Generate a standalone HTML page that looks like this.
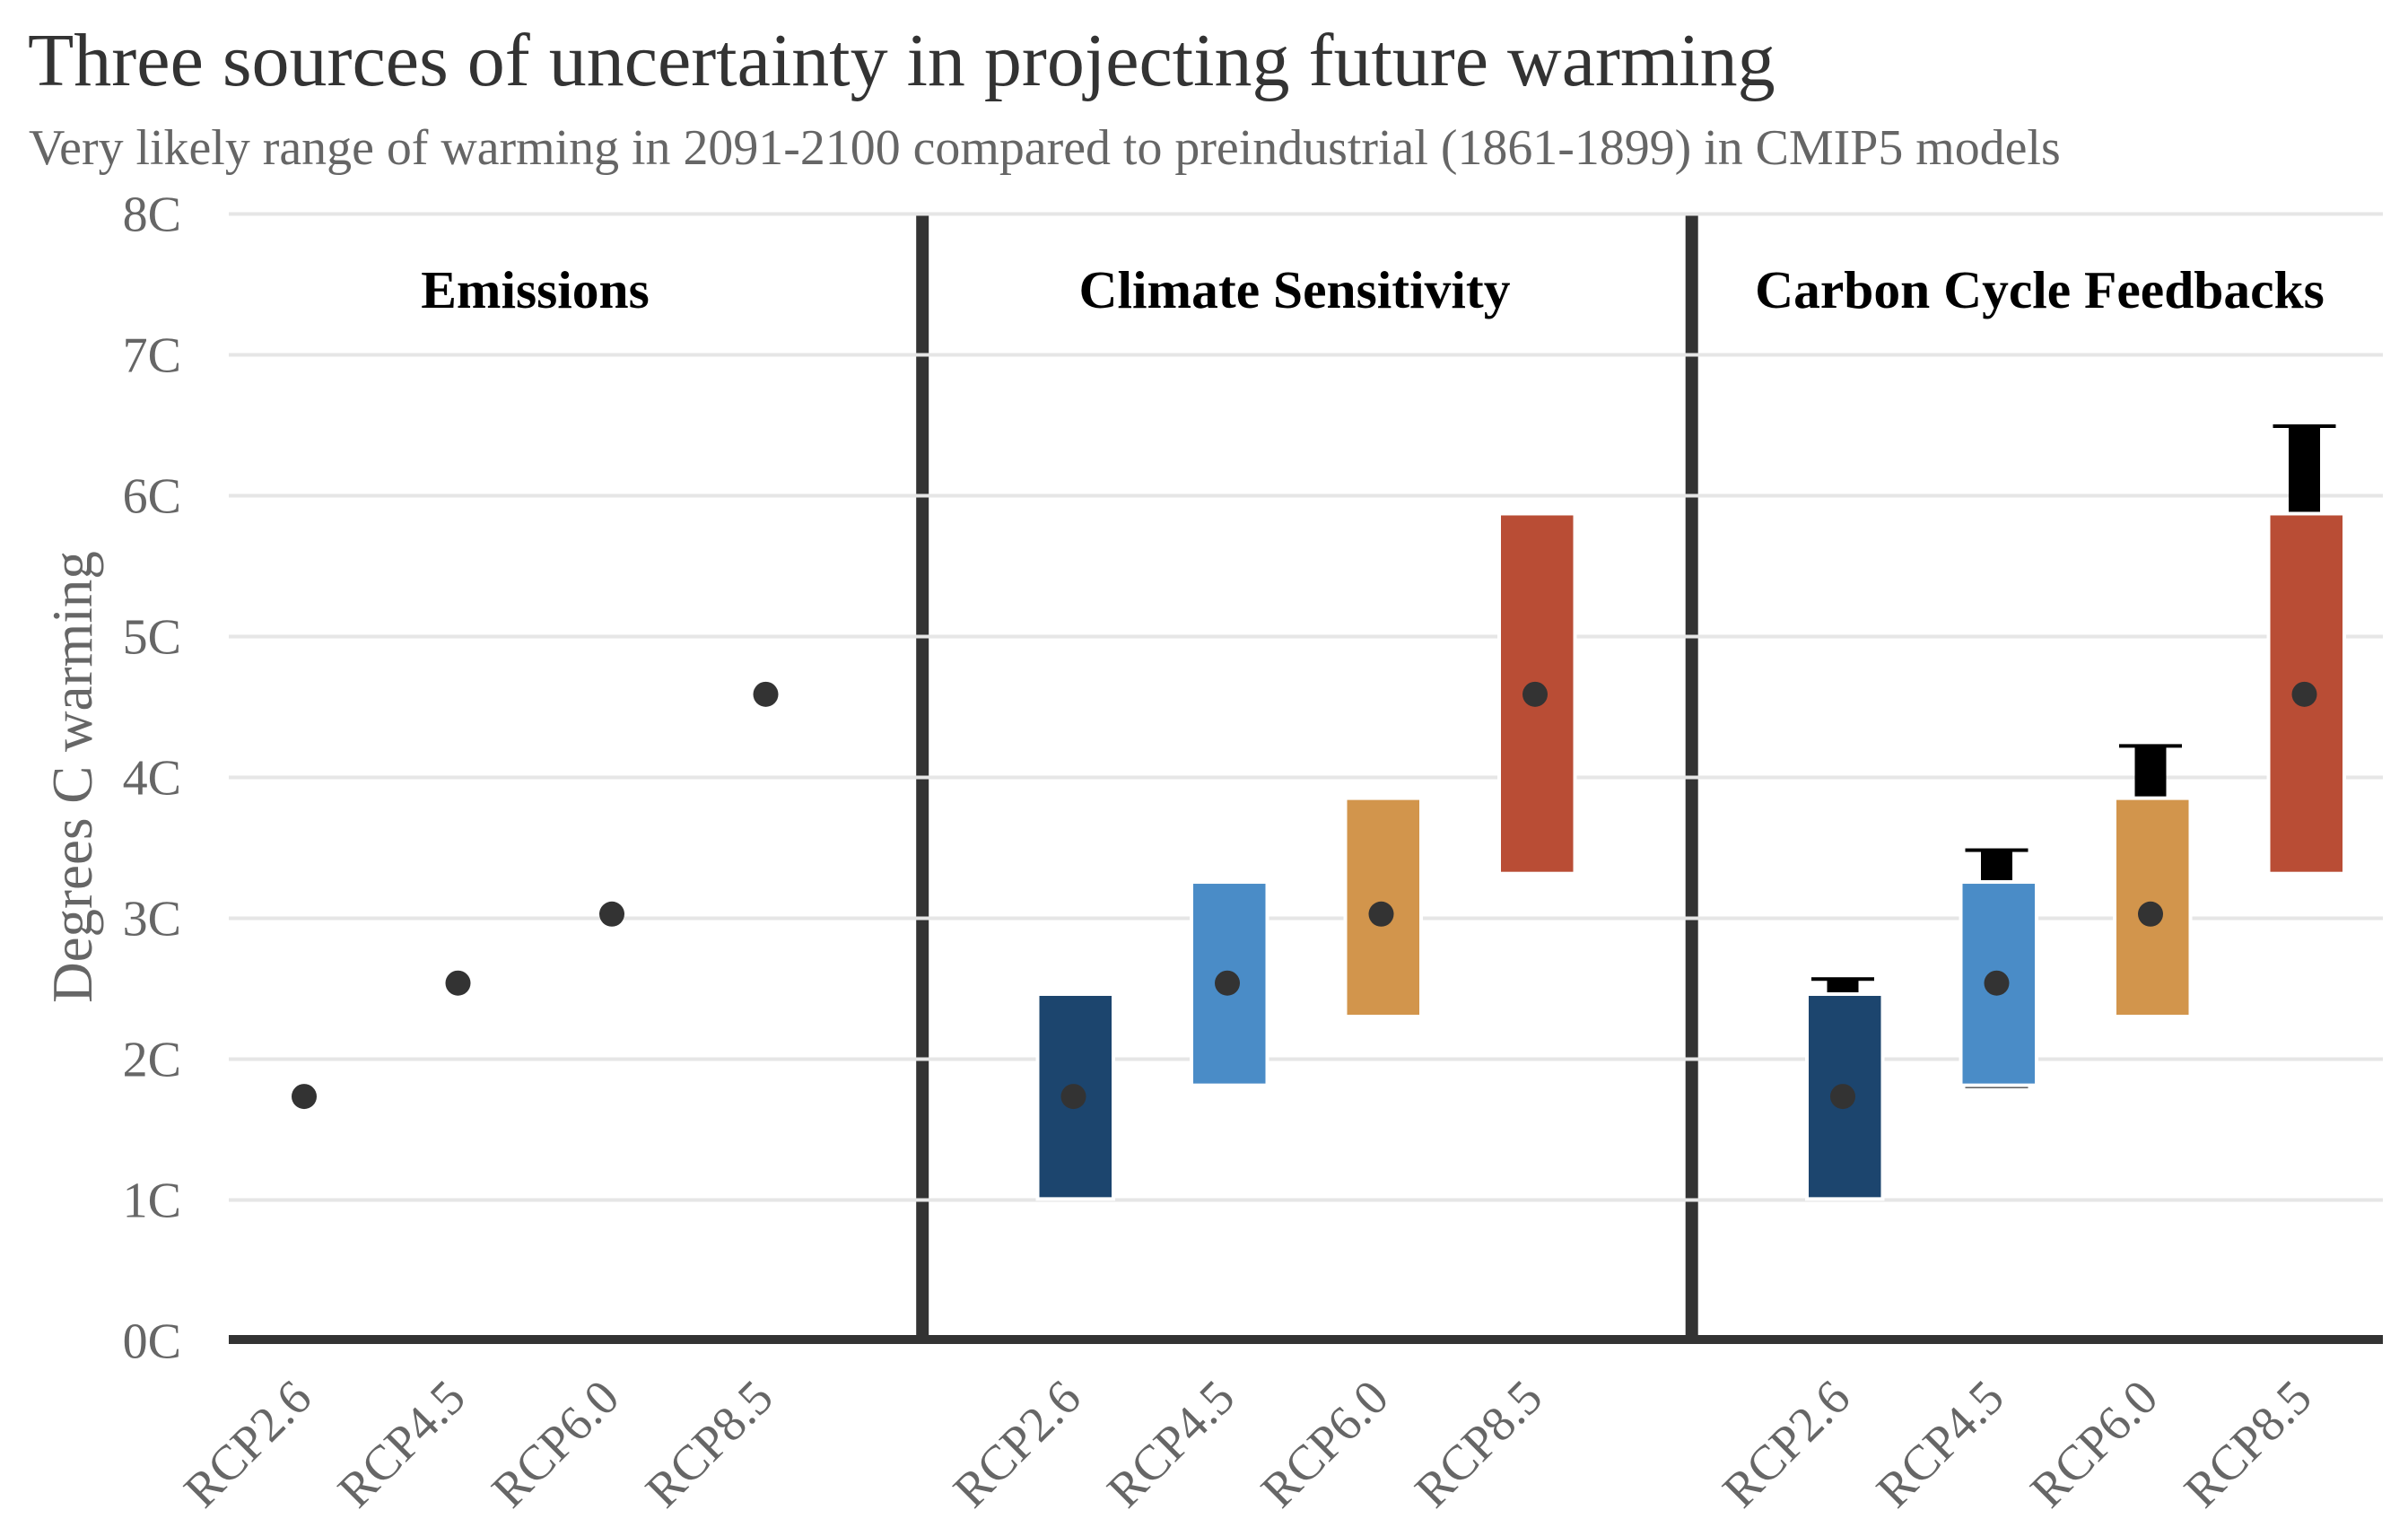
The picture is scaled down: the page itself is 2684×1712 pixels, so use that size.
<!DOCTYPE html>
<html lang="en">
<head>
<meta charset="utf-8">
<title>Three sources of uncertainty in projecting future warming</title>
<style>
html,body{margin:0;padding:0;background:#fff;}
svg{display:block;font-family:"Liberation Serif","Times New Roman",serif;}
</style>
</head>
<body>
<svg id="chart" xmlns="http://www.w3.org/2000/svg" width="2684" height="1712" viewBox="0 0 2684 1712">
  <rect x="0" y="0" width="2684" height="1712" fill="#ffffff"/>
  <text x="31" y="95" font-size="84" fill="#333333">Three sources of uncertainty in projecting future warming</text>
  <text x="32" y="183" font-size="55.9" fill="#666666">Very likely range of warming in 2091-2100 compared to preindustrial (1861-1899) in CMIP5 models</text>
  <text transform="translate(102 866) rotate(-90)" text-anchor="middle" font-size="63" fill="#666666">Degrees C warming</text>
  <g id="layer-dividers"></g>
  <g id="layer-grid"></g>
  <g id="layer-ticks"></g>
  <g id="layer-whiskers"></g>
  <g id="layer-bars"></g>
  <g id="layer-dots"></g>
  <g id="layer-axis"></g>
  <g id="layer-panels"></g>
  <g id="layer-xlabels"></g>
</svg>
<script>
const categories = ['RCP2.6', 'RCP4.5', 'RCP6.0', 'RCP8.5'];
const panelNames = ['Emissions', 'Climate Sensitivity', 'Carbon Cycle Feedbacks'];
const yTicks = [0, 1, 2, 3, 4, 5, 6, 7, 8];
const yTickLabels = ['0C', '1C', '2C', '3C', '4C', '5C', '6C', '7C', '8C'];
const centralWarming = [1.735, 2.54, 3.03, 4.59];
const sensitivityLow = [1.02, 1.827, 2.315, 3.33];
const sensitivityHigh = [2.449, 3.245, 3.84, 5.86];
const carbonLow = [1.02, 1.805, 2.4, 3.5];
const carbonHigh = [2.575, 3.49, 4.23, 6.5];
const barColors = ['#1c456e', '#4a8cc7', '#d2954c', '#b94d35'];

const SVGNS = 'http://www.w3.org/2000/svg';
const plotLeft = 255, plotRight = 2656;
function y(v) { return 1494.5 - 157 * v; }
function x(panel, i) { return 339 + 857.5 * panel + 171.5 * i; }
function mk(layer, tag, attrs, text) {
  const el = document.createElementNS(SVGNS, tag);
  for (const k in attrs) el.setAttribute(k, attrs[k]);
  if (text !== undefined) el.textContent = text;
  document.getElementById(layer).appendChild(el);
  return el;
}

// panel dividers
[1, 2].forEach(function (p) {
  const dx = x(p, 0) - 168.3;
  const el = mk('layer-dividers', 'rect', { x: dx - 7, y: 239, width: 14, height: 1252, fill: '#333333' });
  
  
});

// gridlines and y tick labels
yTicks.forEach(function (t, i) {
  if (t > 0) {
    const g = mk('layer-grid', 'rect', { x: plotLeft, y: y(t) - 2, width: plotRight - plotLeft, height: 4, fill: '#e6e6e6' });
    
    
  }
  const l = mk('layer-ticks', 'text', { x: 202, y: y(t) + 19, 'text-anchor': 'end', 'font-size': 56, fill: '#666666' }, yTickLabels[i]);
  
  
});

// carbon-cycle whiskers (panel 2)
categories.forEach(function (c, i) {
  const cx = x(2, i);
  const stem = mk('layer-whiskers', 'rect', { x: cx - 17.5, y: y(carbonHigh[i]), width: 35, height: y(carbonLow[i]) - y(carbonHigh[i]), fill: '#000000' });
  
  
  const top = mk('layer-whiskers', 'rect', { x: cx - 35, y: y(carbonHigh[i]) - 1, width: 70, height: 4, fill: '#000000' });
  
  
  const bot = mk('layer-whiskers', 'rect', { x: cx - 35, y: y(carbonLow[i]) - 2, width: 70, height: 3.5, fill: '#000000' });
  
  
});

// range bars (panels 1 and 2)
[1, 2].forEach(function (p) {
  categories.forEach(function (c, i) {
    const b = mk('layer-bars', 'rect', {
      x: x(p, i) - 38, y: y(sensitivityHigh[i]), width: 80.5,
      height: y(sensitivityLow[i]) - y(sensitivityHigh[i]),
      fill: barColors[i], stroke: '#ffffff', 'stroke-width': 8, 'paint-order': 'stroke'
    });
    
    
  });
});

// central estimate dots (all panels)
panelNames.forEach(function (name, p) {
  categories.forEach(function (c, i) {
    const d = mk('layer-dots', 'circle', { cx: x(p, i), cy: y(centralWarming[i]), r: 14, fill: '#333333' });
    
    
  });
});

// x axis line
const axisLine = mk('layer-axis', 'rect', { x: plotLeft, y: y(0) - 6.5, width: plotRight - plotLeft, height: 10, fill: '#333333' });



// panel titles
panelNames.forEach(function (name, p) {
  const cx = p === 0 ? 596.5 : (p === 1 ? 1443 : 2273.5);
  const t = mk('layer-panels', 'text', { x: cx, y: 343, 'text-anchor': 'middle', 'font-size': 59.5, 'font-weight': 'bold', fill: '#000000' }, name);
  
  
});

// rotated x labels
panelNames.forEach(function (name, p) {
  categories.forEach(function (c, i) {
    const t = mk('layer-xlabels', 'text', {
      transform: 'translate(' + (x(p, i) + 11) + ' 1561) rotate(-45)',
      'text-anchor': 'end', 'font-size': 55, fill: '#666666'
    }, c);
    
    
  });
});
</script>
</body>
</html>
